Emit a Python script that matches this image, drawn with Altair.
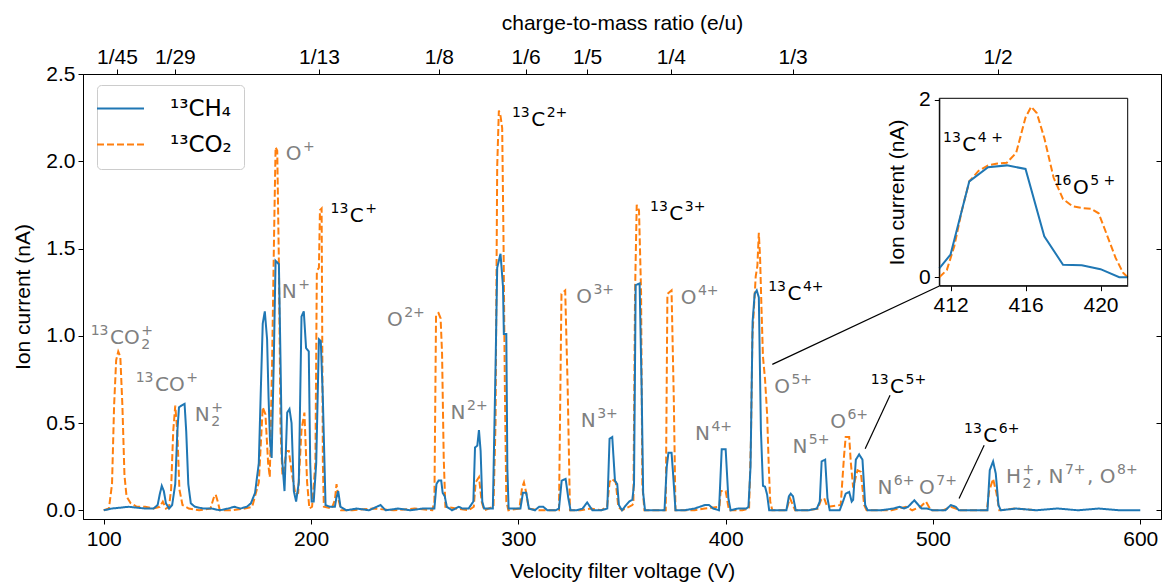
import altair as alt
import pandas as pd

FONT = "Liberation Sans"
MATH_FONT = "DejaVu Sans"

# ---------------- main spectrum: 13CH4 (blue) ----------------
ch4_v = [100, 104, 108, 112, 116, 120, 124, 126, 127, 128, 129, 130, 131.5, 133, 134.5, 135.5, 136.3, 137.5, 139,
         139.8, 140.8, 142, 144, 148, 152, 156, 160, 163, 166, 169, 171, 173, 174.8, 175.8, 176.7, 177.7, 178.8,
         179.5, 180.2, 181, 182, 182.9, 184.5, 185.3, 186, 187.2, 188.5, 189.6, 190.6, 191.7, 192.8, 194.1, 195.4,
         196.5, 197.6, 198.9, 199.6, 200.3, 201.3, 202.5, 203.8, 204.7, 205.7, 207, 209, 211.5, 212.2, 213.1, 214.2,
         217, 222, 228, 233.5, 236, 242, 248, 254, 259.5, 260.5, 261.5, 262.8, 263.5, 264.5, 265.5, 268, 271.3, 273,
         276, 278.3, 279.1, 280.2, 281, 281.8, 282.6, 283.5, 286, 287.7, 289, 289.8, 291.4, 292.6, 293, 294.2, 294.7,
         295.3, 298, 301, 302.2, 303.8, 305.1, 308, 310, 312, 314, 318, 319.6, 320.9, 322.8, 324.1, 325.2, 328, 331,
         333.2, 335.7, 340, 342.9, 344, 345.3, 346.6, 347.7, 348.5, 350, 352, 353.5, 355, 355.8, 356.6, 358.5, 359.5,
         360.2, 361.1, 365, 370.5, 371.6, 372.4, 373.9, 374.7, 375.8, 380, 385, 390, 392, 394, 396.8, 398.1, 400,
         401.3, 402.4, 406, 410, 411, 412, 413, 414, 415, 416, 417, 418, 419, 420, 421, 425, 429.3, 430.5, 431.4,
         432.5, 433.8, 440, 444, 445.4, 446.3, 448, 449.1, 450.2, 455, 456.3, 457.9, 459.6, 460.8, 461.5, 462.8,
         464.4, 466, 467.3, 468.5, 475, 481, 484, 486, 488, 491, 493, 494.5, 497, 500, 506, 508.6, 511, 512.5, 520,
         526.3, 527.4, 529, 530.3, 531.6, 532.7, 540, 550, 560, 570, 580, 590, 600]
ch4_i = [0.0, 0.01, 0.015, 0.02, 0.015, 0.01, 0.01, 0.03, 0.09, 0.14, 0.11, 0.04, 0.01, 0.03, 0.15, 0.45, 0.59, 0.60, 0.61,
         0.45, 0.15, 0.04, 0.02, 0.01, 0.01, 0.0, 0.01, 0.02, 0.01, 0.02, 0.04, 0.10, 0.27, 0.70, 1.07, 1.14, 0.98,
         0.65, 0.40, 0.30, 0.84, 1.43, 1.41, 0.84, 0.30, 0.11, 0.56, 0.58, 0.50, 0.11, 0.05, 0.16, 1.11,
         1.14, 0.93, 0.91, 0.27, 0.05, 0.05, 0.27, 0.98, 0.97, 0.64, 0.03, 0.02, 0.02, 0.07, 0.11, 0.02,
         0.0, 0.01, 0.0, 0.03, 0.0, 0.01, 0.0, 0.01, 0.01, 0.15, 0.17, 0.17, 0.10, 0.08, 0.02, 0.0, 0.02, 0.01,
         0.01, 0.05, 0.36, 0.37, 0.46, 0.34, 0.05, 0.01, 0.01, 0.01, 0.82, 1.39, 1.47, 1.28, 1.01, 1.01, 0.24,
         0.01, 0.01, 0.01, 0.10, 0.10, 0.01, 0.0, 0.02, 0.02, 0.0, 0.0, 0.01, 0.17, 0.18, 0.07, 0.0, 0.0, 0.01,
         0.045, 0.0, 0.0, 0.01, 0.41, 0.42, 0.17, 0.15, 0.03, 0.0, 0.03, 0.05, 0.06, 0.15, 1.29, 1.30, 0.68,
         0.10, 0.0, 0.0, 0.0, 0.25, 0.33, 0.33, 0.20, 0.0, 0.0, 0.01, 0.03, 0.03, 0.01, 0.0, 0.35, 0.35,
         0.07, 0.0, 0.01, 0.01, 0.02, 0.25, 1.08, 1.24, 1.26, 1.22, 0.46, 0.14, 0.135, 0.09, 0.0, 0.0, 0.0, 0.08, 0.095,
         0.08, 0.0, 0.0, 0.01, 0.05, 0.28, 0.29, 0.07, 0.0, 0.0, 0.04, 0.095, 0.105, 0.05, 0.06, 0.29,
         0.32, 0.29, 0.03, 0.0, 0.0, 0.01, 0.02, 0.01, 0.02, 0.057, 0.03, 0.01, 0.01, 0.0, 0.0, 0.03, 0.02, 0.0, 0.0,
         0.0, 0.23, 0.28, 0.21, 0.03, 0.0, 0.01, 0.0, 0.01, 0.0, 0.01, 0.0, 0.0]

# ---------------- main spectrum: 13CO2 (orange, dashed) ----------------
co2_v = [100, 102.5, 104, 105, 106, 107, 108, 109, 110, 111, 113, 116, 120, 124, 127, 128.5, 130, 131.5, 132.5, 133.5,
         134.5, 135.5, 136.5, 138, 141, 146, 151.5, 153, 154, 155, 156, 162, 168, 171.6, 174.8, 176.7, 178, 179.3,
         180.1, 181.2, 182.2, 182.9, 183.7, 184.5, 185.3, 186.2, 187.2, 188, 189.3, 190.9, 192.5, 193.8, 195.4, 196.8,
         198.1, 199.2, 200.5, 202.1, 202.8, 203.8, 204.3, 205.1, 205.7, 206.2, 210, 211.5, 212.3, 213.3, 214.5, 220,
         230, 240, 250, 258.5, 259.5, 260.3, 261.5, 262.5, 263.2, 264, 264.8, 270, 276, 278.5, 279.4, 281, 282.3,
         283.5, 288, 289, 289.8, 290.6, 291.4, 292.2, 292.8, 293.5, 294.2, 295.2, 300.5, 301.8, 302.7, 303.8, 305,
         310, 319.6, 320.8, 322.6, 323.8, 324.9, 330, 335, 340, 342.8, 344, 345, 347, 348.2, 350, 355, 355.5, 356.3,
         357.1, 358.2, 359.2, 359.8, 360.8, 371.1, 371.9, 373.9, 375, 375.8, 385, 390, 397, 397.6, 400, 401.6, 408,
         411.3, 412.2, 412.9, 414.5, 415.3, 416, 416.6, 417.3, 418, 419, 420, 420.8, 421.5, 422.5, 429.3, 431, 433.5,
         440, 444.5, 446, 447.5, 449, 455.5, 457.1, 457.9, 459.6, 460.4, 461.5, 463.6, 465.2, 466.8, 468, 480, 486.9,
         490, 494, 496.6, 499, 505, 508.6, 511, 513, 526, 527.1, 529, 530.6, 532, 540, 550]
co2_i = [0.0, 0.01, 0.15, 0.60, 0.86, 0.91, 0.88, 0.60, 0.20, 0.08, 0.04, 0.02, 0.02, 0.01, 0.02, 0.05, 0.01, 0.02, 0.12, 0.45,
         0.60, 0.45, 0.12, 0.03, 0.01, 0.0, 0.01, 0.07, 0.09, 0.05, 0.0, 0.0, 0.01, 0.02, 0.16, 0.59, 0.55, 0.27,
         0.19, 0.84, 1.60, 2.08, 2.06, 1.41, 0.46, 0.20, 0.25, 0.34, 0.34, 0.20, 0.09, 0.10, 0.46, 0.56,
         0.16, 0.01, 0.02, 0.27, 1.37, 1.39, 1.72, 1.73, 0.27, 0.02, 0.01, 0.06, 0.15, 0.06, 0.0, 0.0,
         0.01, 0.0, 0.01, 0.0, 0.05, 1.12, 1.13, 1.10, 0.90, 0.30, 0.02, 0.01, 0.0, 0.02, 0.16, 0.19, 0.05,
         0.0, 0.02, 0.50, 1.97, 2.29, 2.26, 2.19, 1.60, 0.70, 0.05, 0.0, 0.01, 0.13, 0.16, 0.10, 0.01,
         0.0, 0.0, 1.24, 1.26, 0.70, 0.0, 0.0, 0.01, 0.0, 0.02, 0.16, 0.18, 0.16, 0.02, 0.0, 0.03, 0.04, 1.25,
         1.75, 1.72, 1.25, 0.15, 0.0, 0.0, 1.24, 1.26, 0.63, 0.0, 0.0, 0.01, 0.02, 0.11, 0.11, 0.0, 0.0,
         0.01, 0.40, 1.00, 1.34, 1.40, 1.59, 1.45, 1.15, 0.88, 0.75, 0.55, 0.25, 0.05, 0.0, 0.0, 0.07, 0.0,
         0.0, 0.01, 0.06, 0.07, 0.02, 0.03, 0.31, 0.42, 0.42, 0.27, 0.13, 0.23, 0.22, 0.03, 0.0, 0.0, 0.02,
         0.0, 0.02, 0.05, 0.0, 0.0, 0.02, 0.01, 0.0, 0.0, 0.11, 0.18, 0.10, 0.0, 0.01, 0.0]

# ---------------- inset (13C4+ / 16O5+ region) ----------------
inset_ch4_v = [411.4, 412, 413, 414, 415, 416, 417, 418, 419, 420, 421, 421.45]
inset_ch4_i = [0.10, 0.255, 1.08, 1.24, 1.26, 1.22, 0.46, 0.14, 0.135, 0.09, 0.0, 0.0]
inset_co2_v = [411.4, 411.8, 412.2, 412.6, 413.0, 413.5, 414.0, 414.5, 415.0, 415.5, 416.0, 416.3, 416.6, 417.0,
               417.5, 418.0, 418.5, 419.0, 419.5, 419.9, 420.3, 420.8, 421.2, 421.45]
inset_co2_i = [0.0, 0.08, 0.35, 0.75, 1.08, 1.20, 1.26, 1.28, 1.29, 1.40, 1.80, 1.92, 1.85, 1.57,
               1.12, 0.88, 0.80, 0.78, 0.77, 0.72, 0.50, 0.22, 0.05, 0.0]
inset_xlim = [411.4, 421.45]
inset_ylim = [-0.096, 2.016]
inset_xticks = [412, 416, 420]
inset_yticks = [0, 1, 2]

# ---------------- peak labels: parts are (text, kind) ----------------
# kind: b = normal, p = superscript, S = subscript stacked under the following superscript
GRAY, BLACK = "#808080", "#000000"
label_parts = [
    [("13", "p"), ("CO", "b"), ("2", "S"), ("+", "p")],
    [("13", "p"), ("CO", "b"), ("+", "p")],
    [("N", "b"), ("2", "S"), ("+", "p")],
    [("O", "b"), ("+", "p")],
    [("N", "b"), ("+", "p")],
    [("13", "p"), ("C", "b"), ("+", "p")],
    [("13", "p"), ("C", "b"), ("2+", "p")],
    [("O", "b"), ("2+", "p")],
    [("N", "b"), ("2+", "p")],
    [("O", "b"), ("3+", "p")],
    [("N", "b"), ("3+", "p")],
    [("13", "p"), ("C", "b"), ("3+", "p")],
    [("O", "b"), ("4+", "p")],
    [("13", "p"), ("C", "b"), ("4+", "p")],
    [("O", "b"), ("5+", "p")],
    [("N", "b"), ("4+", "p")],
    [("N", "b"), ("5+", "p")],
    [("O", "b"), ("6+", "p")],
    [("13", "p"), ("C", "b"), ("5+", "p")],
    [("13", "p"), ("C", "b"), ("6+", "p")],
    [("N", "b"), ("6+", "p")],
    [("O", "b"), ("7+", "p")],
    [("H", "b"), ("2", "S"), ("+", "p"), (", N", "b"), ("7+", "p"), (", O", "b"), ("8+", "p")],
]
label_v = [93.7, 115.4, 143.9, 187.8, 185.9, 209.4, 296.9, 236.6, 267.3, 327.9, 330.1, 363.5,
           378.3, 420.5, 423.4, 385.2, 432.2, 450.4, 470.0, 515.0, 473.2, 493.3, 535.2]
label_i = [0.99, 0.716, 0.544, 2.039, 1.249, 1.684, 2.237, 1.091, 0.558, 1.223, 0.513, 1.698,
           1.217, 1.240, 0.707, 0.438, 0.364, 0.507, 0.707, 0.424, 0.129, 0.129, 0.192]
label_col = [GRAY, GRAY, GRAY, GRAY, GRAY, BLACK, BLACK, GRAY, GRAY, GRAY, GRAY, BLACK,
             GRAY, BLACK, GRAY, GRAY, GRAY, GRAY, BLACK, BLACK, GRAY, GRAY, GRAY]

# leader lines (main-axis data coordinates)
lead_v1 = [422.5, 479.3, 524.7]
lead_i1 = [0.836, 0.659, 0.372]
lead_v2 = [503.1, 467.3, 512.6]
lead_i2 = [1.285, 0.353, 0.067]

inset_label_parts = [
    [("13", "p"), ("C", "b"), ("4 +", "p")],
    [("16", "p"), ("O", "b"), ("5 +", "p")],
]
inset_lab_v = [411.6, 417.5]
inset_lab_i = [1.486, 1.006]

# ---------------- axes ----------------
X_DOMAIN = [90, 610]
Y_DOMAIN = [-0.05, 2.5]
x_ticks = [100, 200, 300, 400, 500, 600]
y_ticks = [0.0, 0.5, 1.0, 1.5, 2.0, 2.5]
top_tick_v = [106.4, 134.3, 203.8, 261.7, 303.5, 333.2, 373.6, 432.3, 531.2]
top_tick_lab = ["1/45", "1/29", "1/13", "1/8", "1/6", "1/5", "1/4", "1/3", "1/2"]

series_names = ["¹³CH₄", "¹³CO₂"]
series_colors = ["#1f77b4", "#ff7f0e"]
series_dash = [[1, 0], [7, 3]]

W, H = 1078, 445
INSET_XR = [856.3, 1044.7]
INSET_YR = [211.7, 24.3]
AX_FS = 21
BASE_FS, SUP_FS = 20, 14
SUP_DY, SUB_DY, GAP = -7, 7, 1.5

# DejaVu Sans advance widths (em)
ADV = {"0": 0.636, "1": 0.636, "2": 0.636, "3": 0.636, "4": 0.636, "5": 0.636, "6": 0.636, "7": 0.636,
       "8": 0.636, "9": 0.636, "C": 0.698, "O": 0.787, "N": 0.748, "H": 0.752, "+": 0.838, ",": 0.318, " ": 0.318}


def layout(parts, v0, i0, px_x, px_y, col):
    """Place text parts (base / super / sub) next to one another, in data units."""
    rows, cur, pend = [], 0.0, 0.0
    for txt, kind in parts:
        fs = BASE_FS if kind == "b" else SUP_FS
        w = sum(ADV.get(c, 0.6) for c in txt) * fs
        if kind == "b":
            if pend:
                cur += pend + GAP
                pend = 0.0
            dy = 0
        elif kind == "S":
            dy = SUB_DY
        else:
            dy = SUP_DY
        rows.append({"V": v0 + cur / px_x, "I": i0 - dy / px_y, "txt": txt, "fs": fs, "col": col})
        if kind == "S":
            pend = w
        elif kind == "p":
            cur += max(w, pend) + GAP
            pend = 0.0
        else:
            cur += w + GAP
    return rows


PXX = W / (X_DOMAIN[1] - X_DOMAIN[0])
PXY = H / (Y_DOMAIN[1] - Y_DOMAIN[0])
IPXX = (INSET_XR[1] - INSET_XR[0]) / (inset_xlim[1] - inset_xlim[0])
IPXY = (INSET_YR[0] - INSET_YR[1]) / (inset_ylim[1] - inset_ylim[0])

lab_rows = []
for parts, v, i, c in zip(label_parts, label_v, label_i, label_col):
    lab_rows += layout(parts, v, i, PXX, PXY, c)
lab_df = pd.DataFrame(lab_rows)

ins_rows = []
for parts, v, i in zip(inset_label_parts, inset_lab_v, inset_lab_i):
    ins_rows += layout(parts, v, i, IPXX, IPXY, BLACK)
ins_lab = pd.DataFrame(ins_rows)

# ---------------- data frames ----------------
main_df = pd.concat([
    pd.DataFrame({"V": co2_v, "I": co2_i, "series": series_names[1]}),
    pd.DataFrame({"V": ch4_v, "I": ch4_i, "series": series_names[0]}),
], ignore_index=True)

lead_df = pd.DataFrame({"V": lead_v1, "I": lead_i1, "V2": lead_v2, "I2": lead_i2})
top_df = pd.DataFrame({"V": top_tick_v, "I": [0.0] * len(top_tick_v)})

ins_ch4 = pd.DataFrame({"V": inset_ch4_v, "I": inset_ch4_i})
ins_co2 = pd.DataFrame({"V": inset_co2_v, "I": inset_co2_i})
ins_frame = pd.DataFrame({"x0": [inset_xlim[0]], "x1": [inset_xlim[1]], "y0": [inset_ylim[0]], "y1": [inset_ylim[1]]})

# ---------------- main layer ----------------
xs = alt.Scale(domain=X_DOMAIN, nice=False, zero=False)
ys = alt.Scale(domain=Y_DOMAIN, nice=False, zero=False)

leg = alt.Legend(title=None, orient="none", legendX=14, legendY=11, symbolType="M-2.35,0H2.35", symbolSize=400,
                 symbolStrokeWidth=2, labelFontSize=23, labelFont=MATH_FONT, labelColor="black", padding=12,
                 rowPadding=12, labelOffset=38, strokeColor="#cccccc", fillColor="rgba(255,255,255,0.85)",
                 cornerRadius=4)

lines = alt.Chart(main_df).mark_line(strokeWidth=2).encode(
    x=alt.X("V:Q", scale=xs, axis=alt.Axis(values=x_ticks, title="Velocity filter voltage (V)", labelPadding=4,
                                           titlePadding=11)),
    y=alt.Y("I:Q", scale=ys, axis=alt.Axis(values=y_ticks, format=".1f", title="Ion current (nA)",
                                           labelPadding=3, titlePadding=12)),
    color=alt.Color("series:N", scale=alt.Scale(domain=series_names, range=series_colors), legend=leg),
    strokeDash=alt.StrokeDash("series:N", scale=alt.Scale(domain=series_names, range=series_dash), legend=leg),
)

labels = alt.Chart(lab_df).mark_text(align="left", baseline="middle", font=MATH_FONT).encode(
    x="V:Q", y="I:Q", text="txt:N", size=alt.Size("fs:Q", scale=None),
    color=alt.Color("col:N", scale=None)
)

leads = alt.Chart(lead_df).mark_rule(color="black", strokeWidth=1.2).encode(
    x="V:Q", y="I:Q", x2="V2:Q", y2="I2:Q"
)

main = alt.layer(lines, leads, labels)

# ---------------- top axis + inward right ticks ----------------
label_expr = " : ".join(f"abs(datum.value - {v}) < 0.01 ? '{l}'" for v, l in zip(top_tick_v, top_tick_lab)) + " : ''"
top = alt.Chart(top_df).mark_point(opacity=0).encode(
    x=alt.X("V:Q", scale=alt.Scale(domain=X_DOMAIN, nice=False, zero=False),
            axis=alt.Axis(orient="top", values=top_tick_v, labelExpr=label_expr,
                          title="charge-to-mass ratio (e/u)", labelPadding=2, titlePadding=13)),
    y=alt.Y("I:Q", scale=alt.Scale(domain=Y_DOMAIN, nice=False, zero=False),
            axis=alt.Axis(orient="right", values=y_ticks, labels=False, domain=False, offset=-5, title=None)),
)

# ---------------- inset ----------------
ixs = alt.Scale(domain=inset_xlim, range=INSET_XR, nice=False, zero=False)
iys = alt.Scale(domain=inset_ylim, range=INSET_YR, nice=False, zero=False)

ins_co2_line = alt.Chart(ins_co2).mark_line(strokeWidth=2, color=series_colors[1], strokeDash=series_dash[1]).encode(
    x=alt.X("V:Q", scale=ixs, axis=alt.Axis(orient="bottom", offset=-(H - INSET_YR[0]), values=inset_xticks,
                                            format="d", title=None, labelPadding=4)),
    y=alt.Y("I:Q", scale=iys, axis=alt.Axis(orient="left", offset=-INSET_XR[0], values=inset_yticks, format="d",
                                            title="Ion current (nA)", labelPadding=4, titlePadding=11)),
)
ins_ch4_line = alt.Chart(ins_ch4).mark_line(strokeWidth=2, color=series_colors[0]).encode(x="V:Q", y="I:Q")
ins_text = alt.Chart(ins_lab).mark_text(align="left", baseline="middle", font=MATH_FONT, color="black").encode(
    x="V:Q", y="I:Q", text="txt:N", size=alt.Size("fs:Q", scale=None)
)
ins_box = alt.Chart(ins_frame).mark_rect(fillOpacity=0, stroke="black", strokeWidth=1).encode(
    x="x0:Q", x2="x1:Q", y="y0:Q", y2="y1:Q"
)
inset = alt.layer(ins_co2_line, ins_ch4_line, ins_text, ins_box)

chart = alt.layer(main, top, inset).resolve_scale(x="independent", y="independent").properties(
    width=W, height=H,
    autosize=alt.AutoSizeParams(type="none"),
    padding={"left": 83, "top": 74, "right": 5, "bottom": 68},
).configure_axis(
    labelFont=FONT, titleFont=FONT, labelFontSize=AX_FS, titleFontSize=AX_FS, titleFontWeight="normal",
    labelColor="black", titleColor="black", domainColor="black", tickColor="black", grid=False,
    tickSize=5, domainWidth=1, tickWidth=1,
).configure_view(stroke="black", strokeWidth=1)

chart.save("out.html", embed_options={"renderer": "svg", "actions": False})
